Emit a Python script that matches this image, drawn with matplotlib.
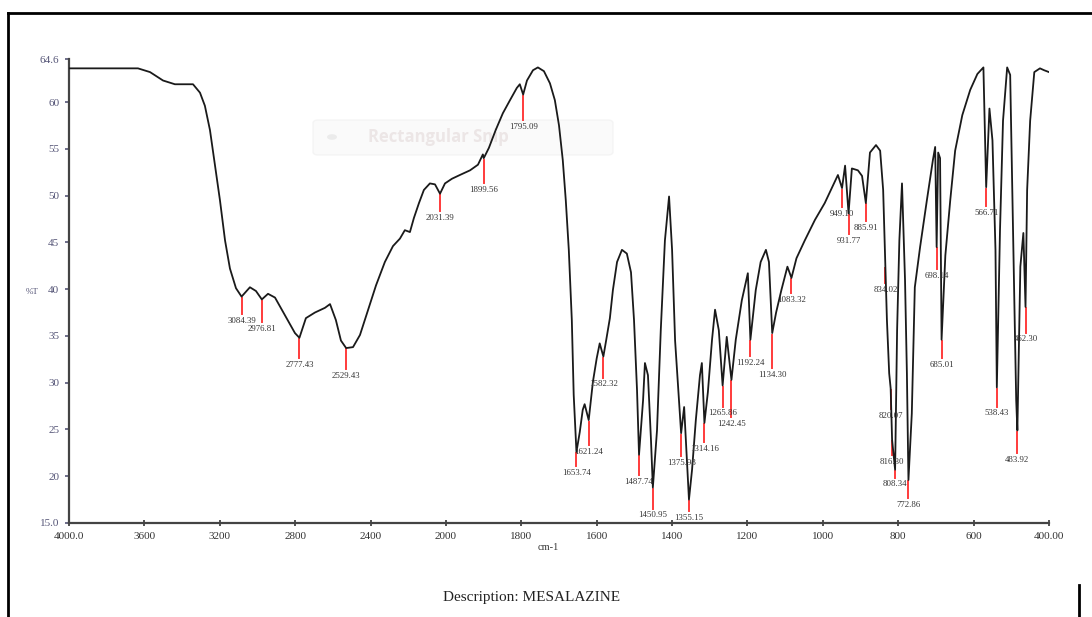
"""
FTIR spectrum of mesalazine, redrawn as a transmittance plot with the
usual 2000 cm-1 scale break (4000-2000 at half the scale of 2000-400).
"""

import numpy as np
import matplotlib.pyplot as plt
from matplotlib.lines import Line2D
from matplotlib.patches import FancyBboxPatch, Circle

# spectrum (wavenumber cm-1, %T)
wavenumber = [
    4000, 3836, 3634, 3570, 3501, 3438, 3342, 3305, 3279, 3252, 3225, 3199,
    3172, 3146, 3114, 3084.4, 3040, 3008, 2976.8, 2944, 2907, 2854, 2801,
    2777.4, 2743, 2695, 2642, 2615, 2584, 2557, 2529.4, 2493, 2456, 2414,
    2371, 2324, 2281, 2244, 2218, 2191, 2170, 2143, 2117, 2085, 2058,
    2031.4, 2005, 1984, 1963, 1936, 1915, 1902, 1899.6, 1886, 1868, 1849,
    1830, 1812, 1804, 1795.1, 1785, 1769, 1756, 1740, 1724, 1711, 1700,
    1690, 1682, 1674, 1666, 1661, 1653.7, 1645, 1637, 1632, 1621.2, 1610,
    1600, 1592, 1582.3, 1575, 1565, 1557, 1546, 1533, 1520, 1509, 1501,
    1493, 1487.7, 1477, 1472, 1464, 1456, 1451.0, 1440, 1430, 1419, 1408,
    1400, 1392, 1376.0, 1368, 1355.2, 1347, 1337, 1326, 1321, 1314.2, 1305,
    1294, 1286, 1276, 1265.9, 1255, 1242.5, 1231, 1215, 1199, 1192.2, 1178,
    1165, 1151, 1143, 1134.3, 1124, 1110, 1094, 1083.3, 1070, 1048, 1021,
    995, 973, 960, 949.1, 941, 931.8, 923, 907, 896, 885.9, 875, 859, 848,
    840, 834.0, 830, 824, 820.1, 816.3, 808.3, 803, 797, 790, 782, 777,
    772.9, 764, 756, 742, 724, 708, 702, 698.1, 694, 689, 685.0, 675, 662,
    649, 630, 609, 590, 574, 566.7, 558, 550, 542, 538.4, 530, 522, 511,
    503, 498, 492, 487, 483.9, 476, 468, 462.3, 458, 450, 439, 424, 413, 400,
]
transmittance = [
    63.6, 63.6, 63.6, 63.2, 62.3, 61.9, 61.9, 61.0, 59.6, 57.0, 53.2, 49.5,
    45.2, 42.2, 40.1, 39.2, 40.2, 39.8, 38.9, 39.5, 39.1, 37.2, 35.3,
    34.8, 36.9, 37.5, 38.0, 38.4, 36.7, 34.5, 33.7, 33.8, 35.1, 37.7,
    40.4, 42.9, 44.6, 45.4, 46.3, 46.1, 47.6, 49.2, 50.6, 51.3, 51.2,
    50.2, 51.3, 51.8, 52.2, 52.7, 53.3, 54.4, 54.0, 55.1, 57.0, 58.8,
    60.2, 61.5, 61.9, 60.8, 62.3, 63.4, 63.7, 63.3, 62.0, 60.2, 57.5,
    53.8, 49.5, 44.2, 36.7, 28.7, 22.6, 24.7, 27.1, 27.7, 26.0, 30.1,
    32.6, 34.2, 32.8, 34.5, 36.9, 39.9, 42.9, 44.2, 43.8, 41.8, 36.7,
    29.2, 22.3, 28.1, 32.1, 30.8, 23.9, 18.8, 24.9, 35.6, 45.2, 49.9,
    44.2, 34.5, 24.6, 27.4, 17.5, 20.7, 26.0, 30.8, 32.1, 25.7, 29.0,
    34.6, 37.8, 35.6, 29.7, 34.9, 30.3, 34.6, 38.8, 41.7, 34.6, 39.9,
    42.9, 44.2, 42.9, 35.3, 37.5, 39.9, 42.4, 41.2, 43.3, 45.2, 47.4,
    49.2, 51.1, 52.2, 50.8, 53.2, 48.1, 52.9, 52.7, 52.1, 49.2, 54.6, 55.4, 54.8,
    50.6, 42.4, 36.7, 31.0, 29.4, 23.9, 20.7, 35.6, 45.2, 51.3, 41.0, 31.0,
    19.6, 26.7, 40.2, 44.5, 49.5, 53.8, 55.2, 44.5, 54.6, 54.0, 34.6, 43.6, 49.5,
    54.8, 58.6, 61.3, 63.0, 63.7, 50.9, 59.3, 55.9, 44.2, 29.5, 46.3, 58.0, 63.7,
    62.9, 51.7, 38.8, 28.1, 24.9, 42.4, 46.0, 38.1, 50.6, 58.0, 63.2, 63.6, 63.4, 63.2,
]

# picked peaks and their printed labels
peak_wn = [
    3084.4, 2976.8, 2777.4, 2529.4, 2031.4, 1899.6, 1795.1, 1653.7, 1621.2,
    1582.3, 1487.7, 1451.0, 1376.0, 1355.2, 1314.2, 1265.9, 1242.5, 1192.2,
    1134.3, 1083.3, 949.1, 931.8, 885.9, 834.0, 820.1, 816.3, 808.3, 772.9,
    698.1, 685.0, 566.7, 538.4, 483.9, 462.3,
]
peak_labels = [
    "3084.39", "2976.81", "2777.43", "2529.43", "2031.39", "1899.56", "1795.09",
    "1653.74", "1621.24", "1582.32", "1487.74", "1450.95", "1375.98", "1355.15",
    "1314.16", "1265.86", "1242.45", "1192.24", "1134.30", "1083.32", "949.10",
    "931.77", "885.91", "834.02", "820.07", "816.30", "808.34", "772.86",
    "698.14", "685.01", "566.71", "538.43", "483.92", "462.30",
]

x_ticks = [4000, 3600, 3200, 2800, 2400, 2000, 1800, 1600, 1400, 1200, 1000, 800, 600, 400]
x_ticklabels = ["4000.0", "3600", "3200", "2800", "2400", "2000", "1800", "1600",
                "1400", "1200", "1000", "800", "600", "400.00"]
y_ticks = [15, 20, 25, 30, 35, 40, 45, 50, 55, 60, 64.6]
y_ticklabels = ["15.0", "20", "25", "30", "35", "40", "45", "50", "55", "60", "64.6"]


# 400-2000 gets 200 cm-1 per unit, 2000-4000 gets 400 cm-1 per unit
def fwd(w):
    w = np.asarray(w, dtype=float)
    return np.where(w >= 2000, 8 + (w - 2000) / 400.0, (w - 400) / 200.0)


def inv(u):
    u = np.asarray(u, dtype=float)
    return np.where(u >= 8, 2000 + 400.0 * (u - 8), 400 + 200.0 * u)


plt.rcParams["font.family"] = ["Liberation Serif", "DejaVu Serif"]

W, H = 1092, 617
fig = plt.figure(figsize=(W / 100, H / 100), dpi=100)
ax = fig.add_axes([69 / W, 1 - 523 / H, (1049 - 69) / W, (523 - 59) / H])
ax.patch.set_visible(False)

ax.set_xscale("function", functions=(fwd, inv))
ax.plot(wavenumber, transmittance, color="#1a1a1a", lw=1.3, zorder=3)
ax.set_xlim(4000, 400)
ax.set_ylim(15, 64.6)

# red stems under each picked peak, with the value printed below
stem = [1.7, 2.3, 2.0, 2.1, 1.7, 2.5, 2.6, 1.4, 2.5, 2.1, 2.0, 2.1, 2.3, 1.1, 1.9,
        2.1, 3.8, 1.6, 3.6, 1.5, 1.9, 2.1, 1.8, 1.6, 2.1, 1.5, 0.7, 1.8, 2.2, 1.8,
        1.9, 1.9, 2.3, 2.6]
wn_up = wavenumber[::-1]
t_up = transmittance[::-1]
for wn, lab, s in zip(peak_wn, peak_labels, stem):
    t = np.interp(wn, wn_up, t_up)
    ax.plot([wn, wn], [t - 0.15, t - 0.15 - s], color="#ff3b3b", lw=1.4, zorder=2)
    ax.text(wn, t - 0.15 - s - 0.3, lab, ha="center", va="top",
            fontsize=6.3, color="#333333", zorder=4)

ax.set_xticks(x_ticks)
ax.set_xticklabels(x_ticklabels)
ax.xaxis.set_minor_locator(plt.NullLocator())
ax.set_yticks(y_ticks)
ax.set_yticklabels(y_ticklabels)
ax.tick_params(axis="x", direction="inout", length=5, width=1.2, labelsize=8,
               colors="#333333", pad=4)
ax.tick_params(axis="y", direction="out", length=3, width=1.2, labelsize=8,
               colors="#555577", pad=4)

for side in ["top", "right"]:
    ax.spines[side].set_visible(False)
for side in ["left", "bottom"]:
    ax.spines[side].set_color("#444444")
    ax.spines[side].set_linewidth(1.6)

fig.text(32 / W, 1 - 292 / H, "%T", fontsize=6.5, color="#555577", ha="center", va="center")
fig.text(548 / W, 1 - 547 / H, "cm-1", fontsize=7.5, color="#333333", ha="center", va="center")
fig.text(532 / W, 1 - 597 / H, "Description: MESALAZINE", fontsize=11, color="#222222",
         ha="center", va="center")

# faint screen-snip overlay left in the source image, kept under the plot
box = FancyBboxPatch((313 / W, 1 - 155 / H), 300 / W, 35 / H,
                     boxstyle="round,pad=0,rounding_size=0.005", transform=fig.transFigure,
                     facecolor="#f8f8f8", edgecolor="#efefef", lw=1, alpha=0.6, zorder=-2)
fig.patches.append(box)
fig.patches.append(Circle((332 / W, 1 - 137 / H), 5 / W, transform=fig.transFigure,
                          facecolor="#e2e2e2", edgecolor="none", alpha=0.6, zorder=-2))
fig.text(368 / W, 1 - 137 / H, "Rectangular Snip", fontsize=12, color="#ece6e6",
         family=["Open Sans", "DejaVu Sans"], weight="bold", ha="left", va="center",
         zorder=-1)

# page frame
frame = dict(transform=fig.transFigure, color="black", lw=2)
fig.add_artist(Line2D([8 / W, 1.0], [1 - 13 / H, 1 - 13 / H], **frame))
fig.add_artist(Line2D([8 / W, 8 / W], [0, 1 - 13 / H], **frame))
fig.add_artist(Line2D([1079 / W, 1079 / W], [0, 1 - 585 / H], **frame))

fig.savefig("out.png", dpi=100)
